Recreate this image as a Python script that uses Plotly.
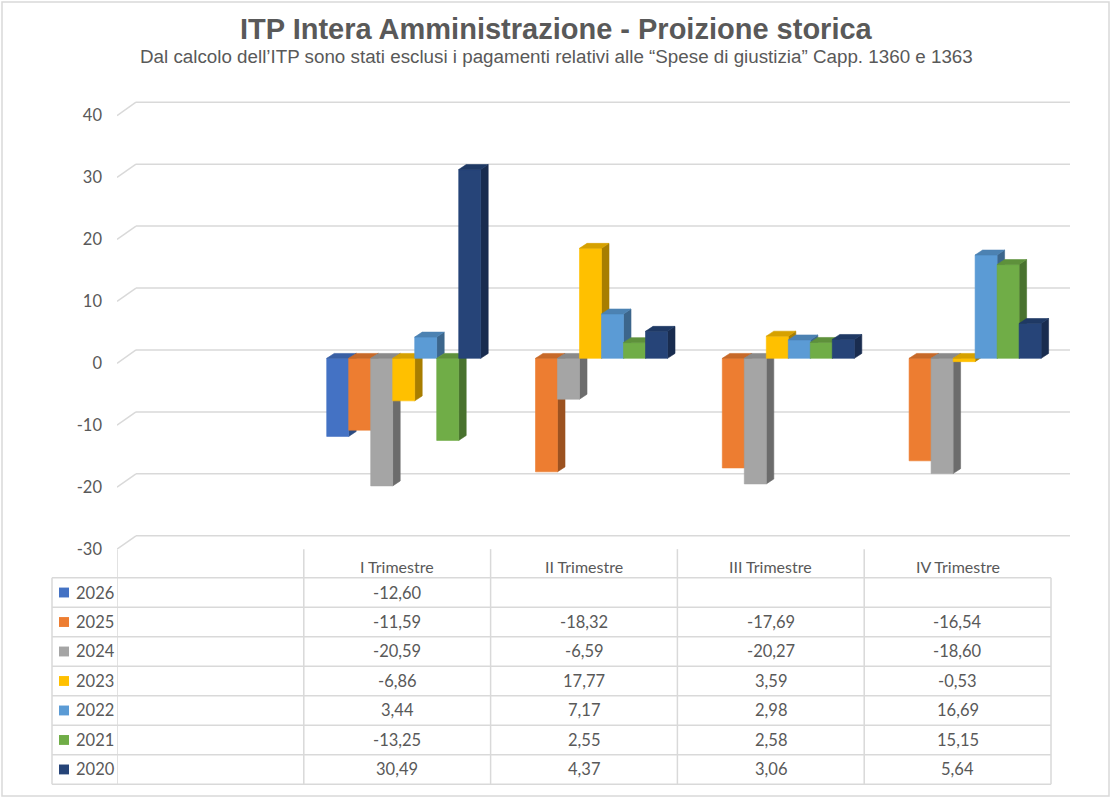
import plotly.graph_objects as go

W, H = 1112, 809

# ---------------- data ----------------
categories = ["", "I Trimestre", "II Trimestre", "III Trimestre", "IV Trimestre"]
years = ["2026", "2025", "2024", "2023", "2022", "2021", "2020"]
v2026 = [None, -12.60, None, None, None]
v2025 = [None, -11.59, -18.32, -17.69, -16.54]
v2024 = [None, -20.59, -6.59, -20.27, -18.60]
v2023 = [None, -6.86, 17.77, 3.59, -0.53]
v2022 = [None, 3.44, 7.17, 2.98, 16.69]
v2021 = [None, -13.25, 2.55, 2.58, 15.15]
v2020 = [None, 30.49, 4.37, 3.06, 5.64]
series_values = [v2026, v2025, v2024, v2023, v2022, v2021, v2020]
colors = ["#4472C4", "#ED7D31", "#A5A5A5", "#FFC000", "#5B9BD5", "#70AD47", "#264478"]
y_ticks = [-30, -20, -10, 0, 10, 20, 30, 40]
y_tick_text = ["-30", "-20", "-10", "0", "10", "20", "30", "40"]

title = "ITP Intera Amministrazione - Proizione storica"
subtitle = "Dal calcolo dell\u2019ITP sono stati esclusi i pagamenti relativi alle \u201cSpese di giustizia\u201d Capp. 1360 e 1363"

# ---------------- geometry ----------------
X_LEFT_PX, X_RIGHT_PX = 117.0, 1051.0       # front plane, category area
Y_BOTTOM_PX, Y_TOP_PX = 556.0, 117.0        # front plane, -30 .. 40
YMIN, YMAX = y_ticks[0], y_ticks[-1]
n_cat = len(categories)
cat_px = (X_RIGHT_PX - X_LEFT_PX) / n_cat
unit_px = (Y_BOTTOM_PX - Y_TOP_PX) / (YMAX - YMIN)

BDX, BDY = 19 / cat_px, 13.5 / unit_px      # back wall offset
BX, BY = 6.5 / cat_px, 5.0 / unit_px        # bar front plane offset
DX, DY = 7.5 / cat_px, 5.0 / unit_px        # bar depth
BW = 22.0 / cat_px                          # bar width
XMIN, XMAX = -0.5, n_cat - 0.5
X_EXT = BDX + 0.02
Y_EXT = BDY + 0.5

TEXT = "#595959"
GRID = "#d9d9d9"
FONT = "Lato"


def px_x(p):
    return p / W


def px_y(p):
    return 1 - p / H


def shade(hexc, f):
    hexc = hexc.lstrip("#")
    r, g, b = (int(hexc[i:i + 2], 16) for i in (0, 2, 4))
    return "#%02x%02x%02x" % (int(r * f), int(g * f), int(b * f))


fig = go.Figure()

# ---------------- 3D bars ----------------
nser = len(series_values)
for k, (vals, col) in enumerate(zip(series_values, colors)):
    front_x, front_y, top_x, top_y, side_x, side_y = [], [], [], [], [], []
    for i, v in enumerate(vals):
        if v is None:
            continue
        xl = i + BX + (k - nser / 2) * BW
        xr = xl + BW
        top = max(v, 0) + BY
        bot = min(v, 0) + BY
        front_x += [xl, xr, xr, xl, xl, None]
        front_y += [bot, bot, top, top, bot, None]
        top_x += [xl, xr, xr + DX, xl + DX, xl, None]
        top_y += [top, top, top + DY, top + DY, top, None]
        side_x += [xr, xr + DX, xr + DX, xr, xr, None]
        side_y += [bot, bot + DY, top + DY, top, bot, None]
    for xs, ys, c in ((side_x, side_y, shade(col, 0.66)),
                      (front_x, front_y, col),
                      (top_x, top_y, shade(col, 0.84))):
        fig.add_trace(go.Scatter(x=xs, y=ys, mode="lines", fill="toself",
                                 fillcolor=c, line=dict(color=c, width=0.6),
                                 hoverinfo="skip", showlegend=False))

shapes = []
# ---------------- back-wall gridlines ----------------
for t in y_ticks:
    shapes.append(dict(type="line", xref="x", yref="y", layer="below",
                       x0=XMIN, y0=t, x1=XMIN + BDX, y1=t + BDY,
                       line=dict(color=GRID, width=1.5)))
    shapes.append(dict(type="line", xref="x", yref="y", layer="below",
                       x0=XMIN + BDX, y0=t + BDY, x1=XMAX + BDX, y1=t + BDY,
                       line=dict(color=GRID, width=1.5)))

# ---------------- data table ----------------
TABLE_LEFT = 52.0
HEADER_TOP = Y_BOTTOM_PX
ROW0 = 585.0
ROW_H = 29.86
row_lines = [ROW0 + ROW_H * r for r in range(len(years) + 1)]
TABLE_BOTTOM = row_lines[-1]

for j in range(n_cat + 1):
    xv = XMIN + j
    y0 = HEADER_TOP if j < n_cat else ROW0
    shapes.append(dict(type="line", xref="x", yref="paper", x0=xv, x1=xv,
                       y0=px_y(y0), y1=px_y(TABLE_BOTTOM),
                       line=dict(color=GRID, width=1.5)))
shapes.append(dict(type="line", xref="paper", yref="paper",
                   x0=px_x(TABLE_LEFT), x1=px_x(TABLE_LEFT),
                   y0=px_y(ROW0), y1=px_y(TABLE_BOTTOM),
                   line=dict(color=GRID, width=1.5)))
for yl in row_lines:
    shapes.append(dict(type="line", xref="paper", yref="paper",
                       x0=px_x(TABLE_LEFT), x1=px_x(X_RIGHT_PX),
                       y0=px_y(yl), y1=px_y(yl),
                       line=dict(color=GRID, width=1.5)))

annotations = []
for i, c in enumerate(categories):
    if c:
        annotations.append(dict(xref="x", yref="paper", x=i, y=px_y(574),
                                text=c, showarrow=False, xanchor="center",
                                yanchor="middle",
                                font=dict(family=FONT, size=16, color=TEXT)))

for r, (yr, vals, col) in enumerate(zip(years, series_values, colors)):
    yc = ROW0 + ROW_H * (r + 0.5)
    shapes.append(dict(type="rect", xref="paper", yref="paper",
                       x0=px_x(59), x1=px_x(69), y0=px_y(yc - 5), y1=px_y(yc + 5),
                       fillcolor=col, line=dict(width=0)))
    annotations.append(dict(xref="paper", yref="paper", x=px_x(74), y=px_y(yc),
                            text=yr, showarrow=False, xanchor="left",
                            yanchor="middle",
                            font=dict(family=FONT, size=16.5, color=TEXT)))
    for i, v in enumerate(vals):
        if v is None:
            continue
        annotations.append(dict(xref="x", yref="paper", x=i, y=px_y(yc),
                                text=f"{v:.2f}".replace(".", ","),
                                showarrow=False, xanchor="center",
                                yanchor="middle",
                                font=dict(family=FONT, size=16.5, color=TEXT)))

# ---------------- titles ----------------
annotations.append(dict(xref="paper", yref="paper", x=0.5, y=px_y(29),
                        text="<b>" + title + "</b>", showarrow=False,
                        xanchor="center", yanchor="middle",
                        font=dict(family="Liberation Sans, Arial", size=29, color=TEXT)))
annotations.append(dict(xref="paper", yref="paper", x=0.5, y=px_y(57),
                        text=subtitle, showarrow=False,
                        xanchor="center", yanchor="middle",
                        font=dict(family="Liberation Sans, Arial", size=18.8, color=TEXT)))

# outer chart border
shapes.append(dict(type="rect", xref="paper", yref="paper",
                   x0=px_x(2), x1=px_x(1109), y0=px_y(806), y1=px_y(2),
                   line=dict(color=GRID, width=1.5), fillcolor="rgba(0,0,0,0)"))

x_dom_right = X_RIGHT_PX + X_EXT * cat_px
y_dom_top = Y_TOP_PX - Y_EXT * unit_px

fig.update_layout(
    width=W, height=H,
    margin=dict(l=0, r=0, t=0, b=0),
    paper_bgcolor="white", plot_bgcolor="rgba(0,0,0,0)",
    showlegend=False,
    shapes=shapes,
    annotations=annotations,
    xaxis=dict(domain=[px_x(X_LEFT_PX), px_x(x_dom_right)], range=[XMIN, XMAX + X_EXT],
               showgrid=False, zeroline=False, showticklabels=False,
               showline=False, fixedrange=True),
    yaxis=dict(domain=[px_y(Y_BOTTOM_PX), px_y(y_dom_top)], range=[YMIN, YMAX + Y_EXT],
               tickvals=y_ticks, ticktext=y_tick_text,
               showgrid=False, zeroline=False, showline=False,
               ticks="", ticklabelstandoff=14,
               tickfont=dict(family=FONT, size=16.5, color=TEXT),
               fixedrange=True),
)

fig.write_html("out.html")
